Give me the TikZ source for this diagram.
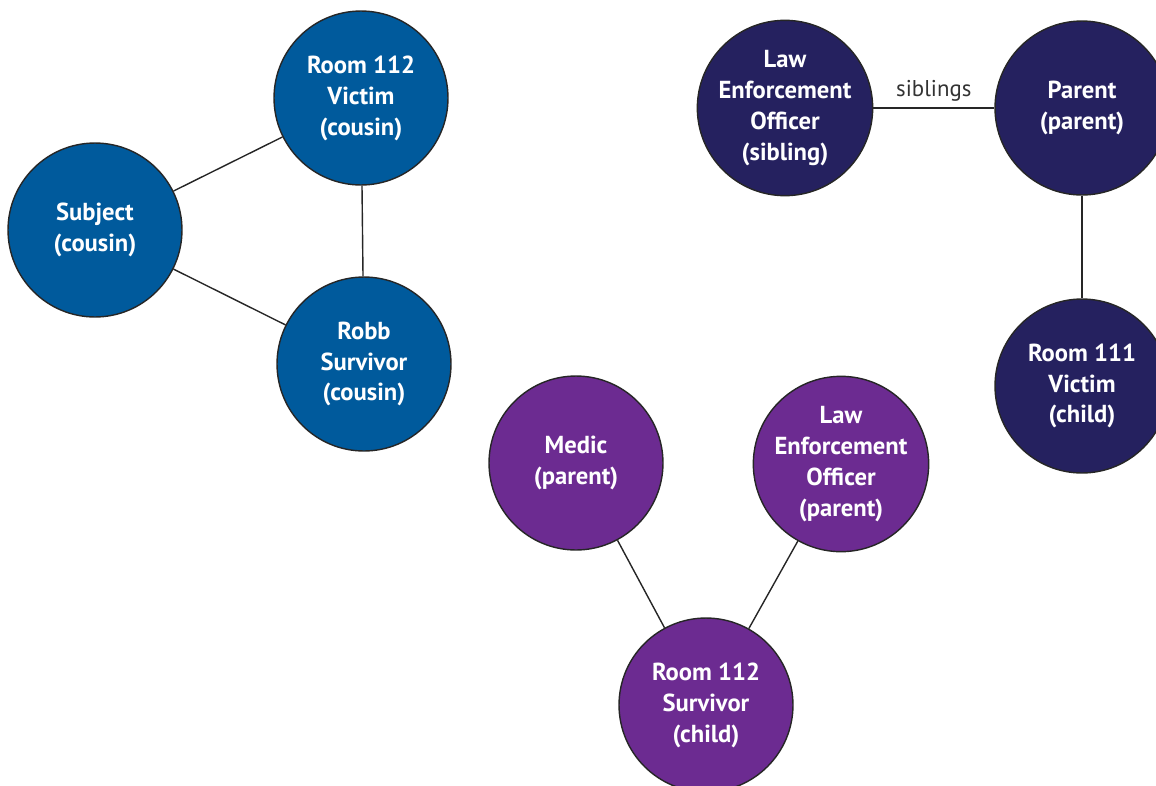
\documentclass[tikz,border=0pt]{standalone}
\usepackage{fontspec}
\setmainfont{PT Sans}
\usepackage{tikz}

\definecolor{cousinblue}{RGB}{0,90,156}
\definecolor{familynavy}{RGB}{37,33,95}
\definecolor{familypurple}{RGB}{108,43,145}

\begin{document}
\begin{tikzpicture}[x=0.02cm, y=-0.02cm,
	person/.style={draw=black!85, line width=0.8pt, circle, minimum size=3.48cm, inner sep=0pt,
		align=center, text=white, font=\fontsize{14}{17.6}\selectfont\bfseries},
	link/.style={draw=black!85, line width=0.8pt}]
			\useasboundingbox (0,0) rectangle (1156,785);
			% cousins
			\node	(victim) at (361,98) [person, fill=cousinblue] {Room 112\\Victim\\(cousin)};
			\node	(subject) at (95,230) [person, fill=cousinblue] {Subject\\(cousin)};
			\node	(robb) at (364,364) [person, fill=cousinblue] {Robb\\Survivor\\(cousin)};
			% siblings
			\node	(officerA) at (785,108) [person, fill=familynavy] {Law\\Enforcement\\Officer\\(sibling)};
			\node	(parent) at (1082,108) [person, fill=familynavy] {Parent\\(parent)};
			\node	(child) at (1082,386) [person, fill=familynavy] {Room 111\\Victim\\(child)};
			% parents
			\node	(medic) at (576,463) [person, fill=familypurple] {Medic\\(parent)};
			\node	(officerB) at (841,464) [person, fill=familypurple] {Law\\Enforcement\\Officer\\(parent)};
			\node	(survivor) at (706,705) [person, fill=familypurple] {Room 112\\Survivor\\(child)};
			\draw[link]
			(subject) edge (victim)
			(victim) edge (robb)
			(subject) edge (robb)
			(officerA) edge node[above=0pt, text=black!80, font=\fontsize{13}{15}\selectfont] {siblings} (parent)
			(parent) edge (child)
			(medic) edge (survivor)
			(officerB) edge (survivor)
			;
		\end{tikzpicture}
\end{document}
